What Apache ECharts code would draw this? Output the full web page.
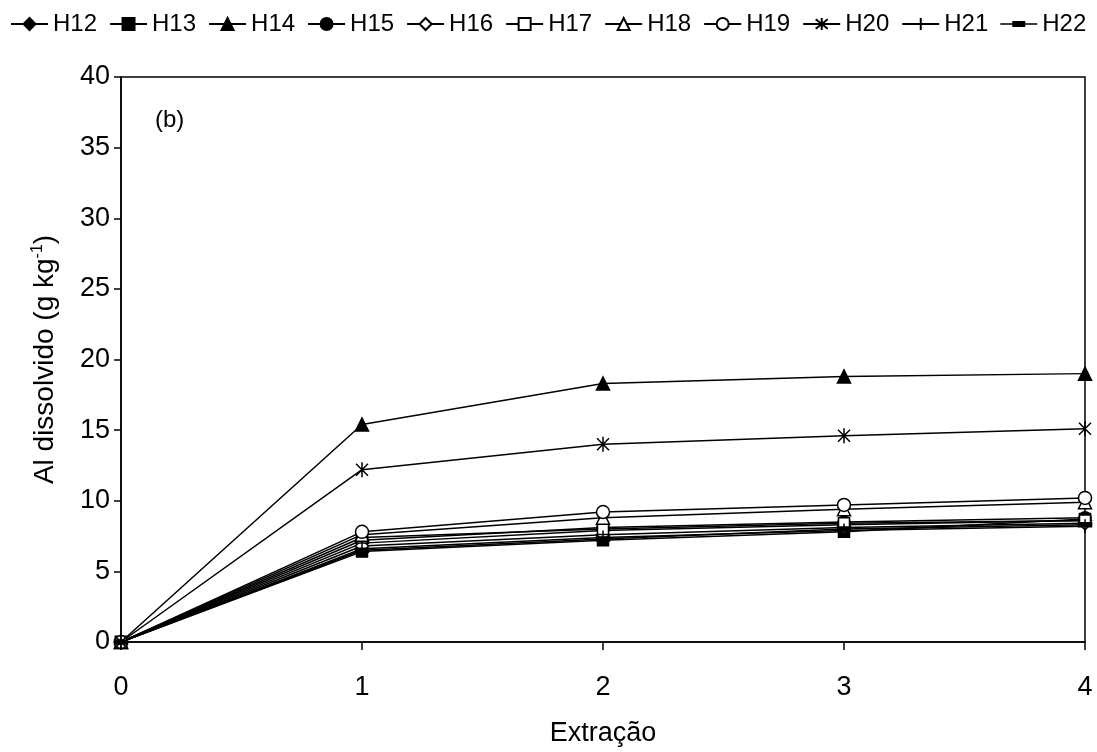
<!DOCTYPE html>
<html>
<head>
<meta charset="utf-8">
<script src="https://cdn.jsdelivr.net/npm/echarts@6/dist/echarts.min.js"></script>
<style>html,body{margin:0;padding:0;background:#fff}#c{width:1097px;height:752px}</style>
</head>
<body>
<div id="c"></div>
<script>
var xValues = [0, 1, 2, 3, 4];
var seriesNames = ['H12','H13','H14','H15','H16','H17','H18','H19','H20','H21','H22'];
var H12 = [0, 7.0, 7.9, 8.3, 8.6];
var H13 = [0, 6.4, 7.2, 7.8, 8.7];
var H14 = [0, 15.4, 18.3, 18.8, 19.0];
var H15 = [0, 7.2, 8.1, 8.5, 8.8];
var H16 = [0, 6.8, 7.6, 8.1, 8.4];
var H17 = [0, 7.4, 8.0, 8.4, 8.6];
var H18 = [0, 7.6, 8.8, 9.4, 9.9];
var H19 = [0, 7.8, 9.2, 9.7, 10.2];
var H20 = [0, 12.2, 14.0, 14.6, 15.1];
var H21 = [0, 6.6, 7.4, 7.9, 8.2];
var H22 = [0, 6.5, 7.3, 8.0, 8.3];
var allData = [H12,H13,H14,H15,H16,H17,H18,H19,H20,H21,H22];
var yTicks = [0,5,10,15,20,25,30,35,40];

var FONT = 'Liberation Sans, Arial, sans-serif';
var asterisk = 'path://M1,1L9,9M9,1L1,9M5,0L5,10';
var plus = 'path://M5,0L5,10M0,5L10,5';
var dash = 'path://M0,0L13,0L13,4L0,4Z';
var dashLegendIcon = 'path://M0,2.25L37,2.25L37,3.75L0,3.75Z M12,0L25,0L25,6L12,6Z';
var styles = [
  {symbol:'diamond', size:13, fill:'#000'},
  {symbol:'rect', size:11, fill:'#000'},
  {symbol:'triangle', size:13, fill:'#000'},
  {symbol:'circle', size:12, fill:'#000'},
  {symbol:'diamond', size:13, fill:'#fff'},
  {symbol:'rect', size:11, fill:'#fff'},
  {symbol:'triangle', size:13, fill:'#fff'},
  {symbol:'circle', size:13, fill:'#fff'},
  {symbol:asterisk, size:15, fill:'#000'},
  {symbol:plus, size:14, fill:'#000'},
  {symbol:dash, size:13, fill:'#000'}
];

var series = seriesNames.map(function(n, i){
  return {
    name: n,
    type: 'line',
    data: xValues.map(function(x, j){ return [x, allData[i][j]]; }),
    symbol: styles[i].symbol,
    symbolSize: styles[i].size,
    symbolKeepAspect: true,
    showAllSymbol: true,
    lineStyle: {color:'#000', width:1.5},
    itemStyle: {color: styles[i].fill, borderColor:'#000', borderWidth: 1.5},
    emphasis: {disabled: true},
    animation: false
  };
});

var legendData = seriesNames.map(function(n){
  if (n === 'H22') return {name: n, icon: dashLegendIcon, itemStyle: {color: '#000', borderWidth: 0}};
  return {name: n};
});

var chart = echarts.init(document.getElementById('c'));
chart.setOption({
  backgroundColor: '#fff',
  animation: false,
  textStyle: {fontFamily: FONT, color: '#000'},
  legend: {
    top: 12, left: 10, width: 1087, padding: 0,
    itemWidth: 37, itemHeight: 15, itemGap: 12,
    textStyle: {fontFamily: FONT, fontSize: 24, color: '#000'},
    data: legendData
  },
  grid: {left: 121, right: 12, top: 77, bottom: 109, show: true, borderColor: '#000', borderWidth: 1.5, backgroundColor: 'transparent'},
  xAxis: {
    type: 'value', min: 0, max: 4, interval: 1,
    name: 'Extração', nameLocation: 'middle', nameGap: 78,
    nameTextStyle: {fontFamily: FONT, fontSize: 27, color: '#000'},
    axisLine: {show: true, lineStyle: {color:'#000', width:1.5}},
    axisTick: {show: true, length: 8, lineStyle: {color:'#000', width:1.5}},
    axisLabel: {fontFamily: FONT, fontSize: 27, color: '#000', margin: 32},
    splitLine: {show: false}
  },
  yAxis: {
    type: 'value', min: 0, max: 40, interval: 5,
    name: '{a|Al dissolvido (g kg}{s|-1}{a|)}', nameLocation: 'middle', nameGap: 60,
    nameTextStyle: {
      fontFamily: FONT, fontSize: 28, color: '#000',
      rich: {
        a: {fontFamily: FONT, fontSize: 28, color: '#000', lineHeight: 32},
        s: {fontFamily: FONT, fontSize: 16, color: '#000', lineHeight: 32, padding: [0,0,14,0]}
      }
    },
    axisLine: {show: true, lineStyle: {color:'#000', width:1.5}},
    axisTick: {show: true, length: 7, lineStyle: {color:'#000', width:1.5}},
    axisLabel: {fontFamily: FONT, fontSize: 27, color: '#000', margin: 11,
      formatter: function(v){ return yTicks.indexOf(v) >= 0 ? String(v) : ''; }},
    splitLine: {show: false}
  },
  graphic: [{
    type: 'text', left: 155, top: 108,
    style: {text: '(b)', fontFamily: FONT, fontSize: 24, fill: '#000'}
  }],
  series: series
});
</script>
</body>
</html>
